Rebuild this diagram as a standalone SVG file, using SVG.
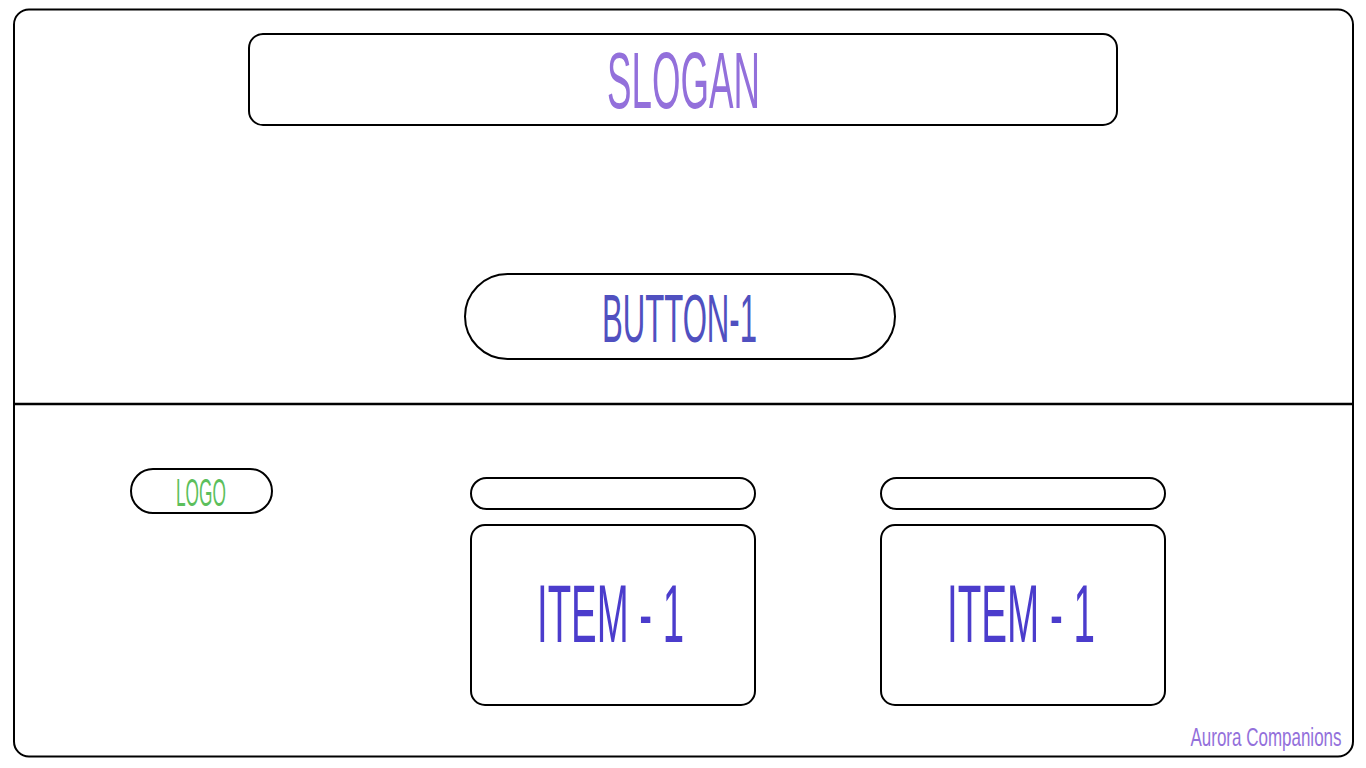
<svg xmlns="http://www.w3.org/2000/svg" width="1366" height="768" viewBox="0 0 1366 768">
<style>
.box{fill:#fff;stroke:#000;stroke-width:2}
.t{font-family:"Liberation Sans",Arial,sans-serif;text-anchor:middle;font-weight:normal}
</style>
<rect width="1366" height="768" fill="#fff"/>
<g id="frame">
<rect class="box" x="14" y="9.5" width="1339" height="747" rx="15"/>
</g>
<g id="connectors">
<line x1="14" y1="404" x2="1353" y2="404" stroke="#000" stroke-width="2.5"/>
</g>
<g id="slogan">
<rect class="box" x="249" y="34" width="868" height="91" rx="14"/>
<text class="t" x="683.5" y="108" font-size="80" fill="#9370DB" textLength="153" lengthAdjust="spacingAndGlyphs">SLOGAN</text>
</g>
<g id="button1">
<rect class="box" x="465" y="274" width="430" height="85" rx="42.5"/>
<text class="t" x="679.5" y="342" font-size="68" fill="#5050C0" textLength="155" lengthAdjust="spacingAndGlyphs">BUTTON-1</text>
</g>
<g id="logo">
<rect class="box" x="131" y="469" width="141" height="44" rx="22"/>
<text class="t" x="201" y="506" font-size="39" fill="#5CBF5C" textLength="50" lengthAdjust="spacingAndGlyphs">LOGO</text>
</g>
<g id="item1">
<rect class="box" x="471" y="478" width="284" height="31" rx="15.5"/>
<rect class="box" x="471" y="525" width="284" height="180" rx="14"/>
<text class="t" x="610.5" y="642" font-size="82" fill="#4B3CCC" textLength="147" lengthAdjust="spacingAndGlyphs">ITEM - 1</text>
</g>
<g id="item2">
<rect class="box" x="881" y="478" width="284" height="31" rx="15.5"/>
<rect class="box" x="881" y="525" width="284" height="180" rx="14"/>
<text class="t" x="1021" y="642" font-size="82" fill="#4B3CCC" textLength="148" lengthAdjust="spacingAndGlyphs">ITEM - 1</text>
</g>
<g id="watermark">
<text class="t" transform="translate(1266,746) scale(0.68,1)" x="0" y="0" font-size="25" fill="#9370DB">Aurora Companions</text>
</g>
</svg>
